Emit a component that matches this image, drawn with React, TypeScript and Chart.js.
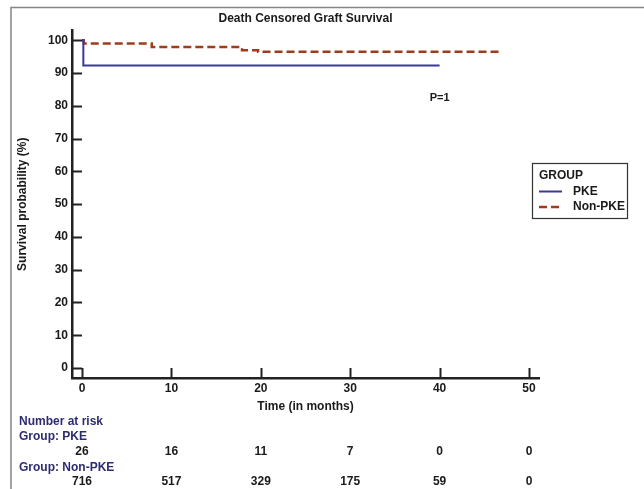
import React, { useEffect, useRef } from "react";
import { Chart, registerables } from "chart.js";

Chart.register(...registerables);

const chartTitle = "Death Censored Graft Survival";
const xAxisTitle = "Time (in months)";
const yAxisTitle = "Survival probability (%)";
const legendTitle = "GROUP";
const pValueText = "P=1";

const timeTicks = [0, 10, 20, 30, 40, 50];
const survivalTicks = [0, 10, 20, 30, 40, 50, 60, 70, 80, 90, 100];

const groupLabels = ["PKE", "Non-PKE"];
const pkeTimes = [0, 0.15, 40];
const pkeSurvival = [100, 92.3, 92.3];
const nonPkeTimes = [0, 0.2, 7.8, 17.9, 19.7, 46.7];
const nonPkeSurvival = [100, 99.0, 97.95, 96.95, 96.5, 96.5];

const riskHeader = "Number at risk";
const riskGroupLabels = ["Group: PKE", "Group: Non-PKE"];
const riskPke = [26, 16, 11, 7, 0, 0];
const riskNonPke = [716, 517, 329, 175, 59, 0];

const FONT = "'Liberation Sans', Arial, sans-serif";
const BLUE = "#3a3a96";
const BROWN = "#a03c1c";
const NAVY = "#2c2c72";
const INK = "#1a1a1a";

const overlayPlugin = {
  id: "kmOverlay",
  afterDraw(chart: any) {
    const ctx = chart.ctx as CanvasRenderingContext2D;
    const xs = chart.scales.x;
    const ys = chart.scales.y;
    const area = chart.chartArea;
    ctx.save();

    // outer frame (top and left)
    ctx.strokeStyle = "#858585";
    ctx.lineWidth = 1.5;
    ctx.beginPath();
    ctx.moveTo(11, chart.height);
    ctx.lineTo(11, 7.5);
    ctx.lineTo(chart.width, 7.5);
    ctx.stroke();

    // inward tick marks
    ctx.strokeStyle = "#222";
    ctx.lineWidth = 2;
    ctx.beginPath();
    xs.ticks.forEach((t: any) => {
      const px = Math.round(xs.getPixelForValue(t.value)) + 0.5;
      ctx.moveTo(px, area.bottom);
      ctx.lineTo(px, area.bottom - 10);
    });
    ys.ticks.forEach((t: any) => {
      const py = Math.round(ys.getPixelForValue(t.value)) + 0.5;
      ctx.moveTo(area.left, py);
      ctx.lineTo(area.left + 10, py);
    });
    ctx.stroke();

    // P value
    ctx.font = `bold 11px ${FONT}`;
    ctx.fillStyle = INK;
    ctx.textAlign = "center";
    ctx.textBaseline = "middle";
    ctx.fillText(pValueText, xs.getPixelForValue(40), ys.getPixelForValue(82.4));

    // legend box
    const lx = 532, ly = 163, lw = 95, lh = 55;
    ctx.strokeStyle = "#333";
    ctx.lineWidth = 1.2;
    ctx.strokeRect(lx + 0.5, ly + 0.5, lw, lh);
    ctx.font = `bold 12px ${FONT}`;
    ctx.textAlign = "left";
    ctx.fillStyle = INK;
    ctx.fillText(legendTitle, 539, 175.5);
    chart.data.datasets.forEach((ds: any, i: number) => {
      const yy = 191.5 + i * 15.5;
      ctx.save();
      ctx.strokeStyle = ds.borderColor;
      ctx.lineWidth = ds.borderWidth;
      ctx.setLineDash(ds.borderDash || []);
      ctx.beginPath();
      ctx.moveTo(539, yy);
      ctx.lineTo(562, yy);
      ctx.stroke();
      ctx.restore();
      ctx.fillStyle = INK;
      ctx.fillText(ds.label, 573, yy);
    });

    // number at risk table
    ctx.textAlign = "left";
    ctx.fillStyle = NAVY;
    ctx.fillText(riskHeader, 19, 421.5);
    ctx.fillText(riskGroupLabels[0], 19, 436.5);
    ctx.fillText(riskGroupLabels[1], 19, 467.5);
    ctx.textAlign = "center";
    ctx.fillStyle = INK;
    timeTicks.forEach((t, i) => {
      const px = xs.getPixelForValue(t);
      ctx.fillText(String(riskPke[i]), px, 451.5);
      ctx.fillText(String(riskNonPke[i]), px, 482);
    });

    ctx.restore();
  },
};

export default function App() {
  const ref = useRef<HTMLCanvasElement | null>(null);

  useEffect(() => {
    document.body.style.margin = "0";
    if (!ref.current) return;
    const chart = new Chart(ref.current, {
      type: "line",
      data: {
        datasets: [
          {
            label: groupLabels[0],
            data: pkeTimes.map((t, i) => ({ x: t, y: pkeSurvival[i] })),
            borderColor: BLUE,
            borderWidth: 2,
            stepped: "before",
            pointRadius: 0,
            fill: false,
          },
          {
            label: groupLabels[1],
            data: nonPkeTimes.map((t, i) => ({ x: t, y: nonPkeSurvival[i] })),
            borderColor: BROWN,
            borderWidth: 2.5,
            borderDash: [8, 4],
            stepped: "before",
            pointRadius: 0,
            fill: false,
          },
        ],
      },
      options: {
        responsive: false,
        animation: false,
        layout: { padding: { left: 12, right: 105, top: 0, bottom: 75 } },
        plugins: {
          legend: { display: false },
          tooltip: { enabled: false },
          title: {
            display: true,
            text: chartTitle,
            fullSize: false,
            color: INK,
            font: { family: FONT, size: 12, weight: "bold" },
            padding: { top: 11, bottom: 5 },
          },
        },
        scales: {
          x: {
            type: "linear",
            min: -1.12,
            max: 51.12,
            afterFit: (s: any) => {
              s.height = 36;
            },
            afterBuildTicks: (s: any) => {
              s.ticks = timeTicks.map((v) => ({ value: v }));
            },
            grid: { display: true, drawOnChartArea: false, drawTicks: false },
            border: { display: true, color: "#222", width: 2.5 },
            ticks: {
              padding: 3,
              color: INK,
              font: { family: FONT, size: 12, weight: "bold" },
              autoSkip: false,
              maxRotation: 0,
            },
            title: {
              display: true,
              text: xAxisTitle,
              color: INK,
              font: { family: FONT, size: 12, weight: "bold" },
              padding: { top: 0, bottom: 0 },
            },
          },
          y: {
            type: "linear",
            min: -3.05,
            max: 103,
            afterFit: (s: any) => {
              s.width = 60;
            },
            afterBuildTicks: (s: any) => {
              s.ticks = survivalTicks.map((v) => ({ value: v }));
            },
            grid: { display: true, drawOnChartArea: false, drawTicks: false },
            border: { display: true, color: "#222", width: 2.5 },
            ticks: {
              padding: 4,
              color: INK,
              font: { family: FONT, size: 12, weight: "bold" },
              autoSkip: false,
            },
            title: {
              display: true,
              text: yAxisTitle,
              color: INK,
              font: { family: FONT, size: 12, weight: "bold" },
              padding: { top: 3, bottom: 0 },
            },
          },
        },
      },
      plugins: [overlayPlugin],
    } as any);
    return () => chart.destroy();
  }, []);

  return (
    <canvas
      ref={ref}
      width={644}
      height={489}
      style={{ display: "block", position: "absolute", left: 0, top: 0 }}
    />
  );
}
